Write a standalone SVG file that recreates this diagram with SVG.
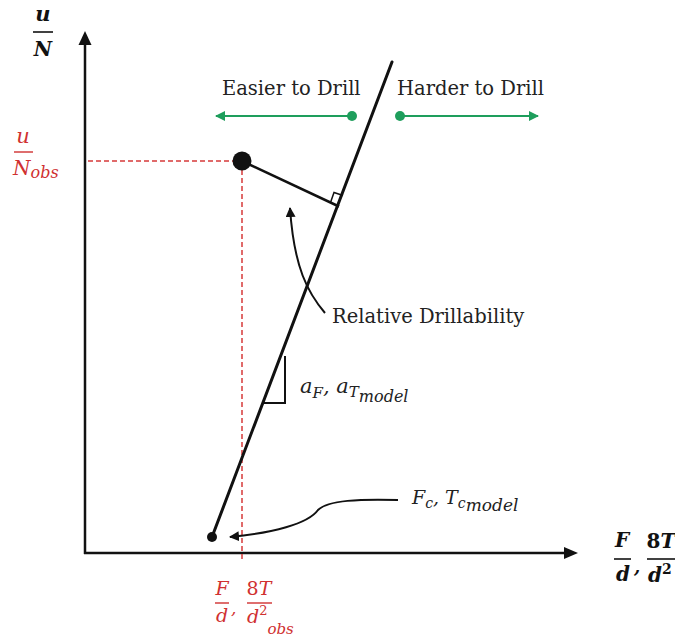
<svg xmlns="http://www.w3.org/2000/svg" width="675" height="639" viewBox="0 0 675 639">
<defs>
<style>
.ax{stroke:#111;stroke-width:2.5;fill:none}
.ln{stroke:#111;stroke-width:3;fill:none;stroke-linecap:round}
.thin{stroke:#111;stroke-width:2;fill:none}
.dash{stroke:#d63a3a;stroke-width:1.5;stroke-dasharray:5 3;fill:none}
.grn{stroke:#1e9e5c;stroke-width:2;fill:none}
.lbl{font-family:"DejaVu Serif","Liberation Serif",serif;font-size:19.5px;fill:#222}
.m{font-family:"DejaVu Serif","Liberation Serif",serif;font-style:italic;fill:#222}
.mb{font-family:"DejaVu Serif","Liberation Serif",serif;font-style:italic;font-weight:bold;fill:#111}
.r{fill:#d03030}
.bar{stroke:#111;stroke-width:1.6}
.rbar{stroke:#d03030;stroke-width:1.4}
</style>
<marker id="ah" viewBox="0 0 10 10" refX="9" refY="5" markerWidth="5" markerHeight="5" orient="auto" markerUnits="strokeWidth"><path d="M0,0 L10,5 L0,10 z" fill="#111"/></marker>
<marker id="gh" viewBox="0 0 10 10" refX="9" refY="5" markerWidth="5" markerHeight="5" orient="auto" markerUnits="strokeWidth"><path d="M0,0 L10,5 L0,10 z" fill="#1e9e5c"/></marker>
</defs>
<rect width="675" height="639" fill="#fff"/>

<g id="axes">
<line class="ax" x1="85" y1="554" x2="85" y2="42"/>
<path d="M85,31 L78.5,45 L91.5,45 z" fill="#111"/>
<line class="ax" x1="84" y1="553" x2="566" y2="553"/>
<path d="M578,553 L564,547 L564,559 z" fill="#111"/>
</g>

<g id="guides">
<line class="dash" x1="88" y1="161" x2="233" y2="161"/>
<line class="dash" x1="242" y1="170" x2="242" y2="562"/>
</g>

<g id="connectors">
<line id="model-line" class="ln" x1="212" y1="537" x2="392" y2="62"/>
<line id="perp" class="thin" x1="242" y1="161" x2="339" y2="206.5" style="stroke-width:2.5"/>
<path id="right-angle" class="thin" d="M330.5,202.5 L334,192.5 L343,195.5" style="stroke-width:1.5"/>
<path id="slope" class="thin" d="M285,356 L285,403 L263,403"/>
<path id="rd-arrow" class="thin" d="M325,313 C308,293 294,268 290,208" marker-end="url(#ah)"/>
<path id="fc-arrow" class="thin" d="M398,500 C360,499 328,500 318,510 C308,524 272,533 230,537" marker-end="url(#ah)"/>
<line id="easier" class="grn" x1="352" y1="116" x2="216" y2="116" marker-end="url(#gh)"/>
<line id="harder" class="grn" x1="400" y1="116" x2="538" y2="116" marker-end="url(#gh)"/>
</g>

<g id="obs-point"><circle cx="242" cy="161" r="9.5" fill="#111"/></g>
<g id="model-point"><circle cx="212" cy="537" r="5" fill="#111"/></g>
<g id="green-dots">
<circle cx="352" cy="116" r="5" fill="#1e9e5c"/>
<circle cx="400" cy="116" r="5" fill="#1e9e5c"/>
</g>

<g id="labels">
<text class="lbl" x="222" y="95">Easier to Drill</text>
<text class="lbl" x="397" y="95">Harder to Drill</text>
<text class="lbl" x="332" y="323">Relative Drillability</text>
</g>

<g id="y-label">
<text class="mb" x="43" y="21" font-size="21" text-anchor="middle">u</text>
<line class="bar" x1="33" y1="32" x2="53" y2="32"/>
<text class="mb" x="43" y="56" font-size="20" text-anchor="middle">N</text>
</g>

<g id="y-obs-label">
<text class="m r" x="23" y="143" font-size="21" text-anchor="middle">u</text>
<line class="rbar" x1="14" y1="152" x2="33" y2="152"/>
<text class="m r" x="13" y="175" font-size="20">N<tspan font-size="16" dy="3">obs</tspan></text>
</g>

<g id="x-label">
<text class="mb" x="622" y="547" font-size="20" text-anchor="middle">F</text>
<line class="bar" x1="614" y1="559" x2="631" y2="559"/>
<text class="mb" x="623" y="581" font-size="20" text-anchor="middle">d</text>
<text class="mb" x="634" y="573" font-size="18">,</text>
<text class="mb" x="661" y="548" font-size="20" text-anchor="middle"><tspan font-style="normal">8</tspan>T</text>
<line class="bar" x1="647" y1="559" x2="675" y2="559"/>
<text class="mb" x="648" y="582" font-size="20">d<tspan font-style="normal" font-size="14" dy="-8">2</tspan></text>
</g>

<g id="x-obs-label">
<text class="m r" x="222" y="595" font-size="19" text-anchor="middle">F</text>
<line class="rbar" x1="215" y1="603" x2="229" y2="603"/>
<text class="m r" x="222" y="622" font-size="19" text-anchor="middle">d</text>
<text class="m r" x="231" y="614" font-size="17">,</text>
<text class="m r" x="259" y="595" font-size="19" text-anchor="middle"><tspan font-style="normal">8</tspan>T</text>
<line class="rbar" x1="247" y1="603" x2="272" y2="603"/>
<text class="m r" x="247" y="623" font-size="19">d<tspan font-style="normal" font-size="13" dy="-8">2</tspan><tspan font-size="15" dy="19">obs</tspan></text>
</g>

<g id="slope-label">
<text class="m" x="300" y="393" font-size="21">a<tspan font-size="15" dy="5">F</tspan><tspan dy="-5">, a</tspan><tspan font-size="15" dy="4">T</tspan><tspan font-size="16" dy="5">model</tspan></text>
</g>

<g id="intercept-label">
<text class="m" x="412" y="504" font-size="19">F<tspan font-size="14" dy="4">c</tspan><tspan dy="-4">, T</tspan><tspan font-size="14" dy="4">c</tspan><tspan font-size="17" dy="3">model</tspan></text>
</g>
</svg>
